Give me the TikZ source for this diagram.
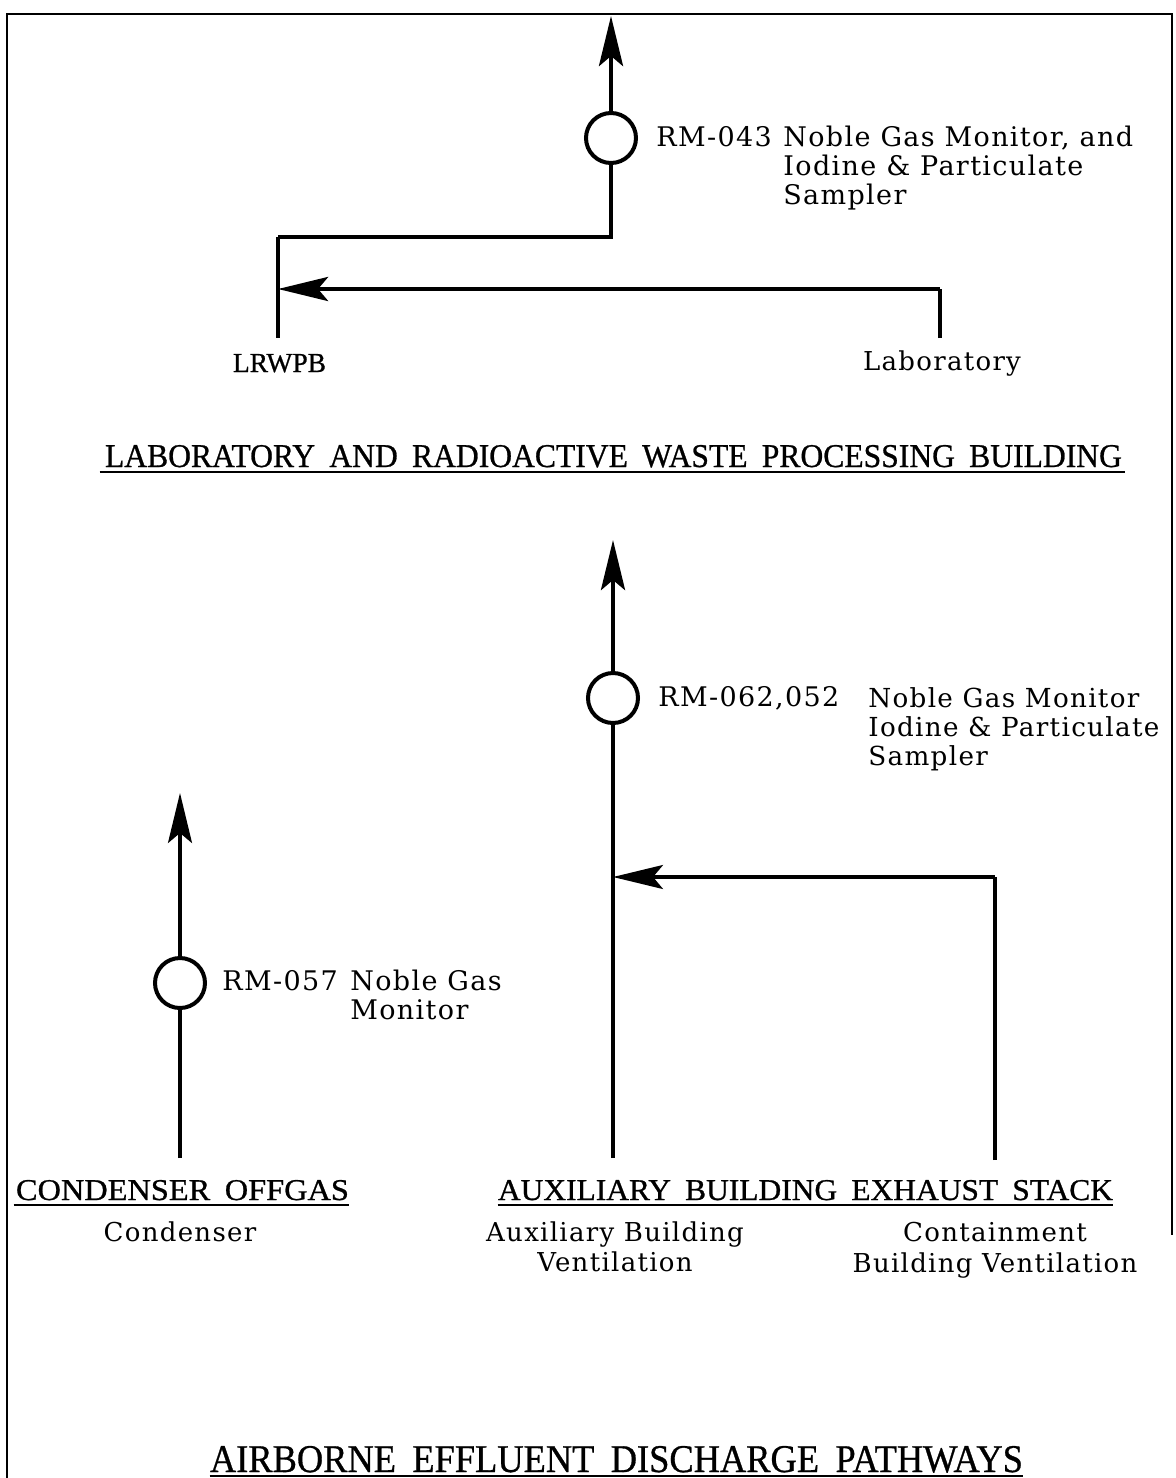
\documentclass[tikz,border=0pt]{standalone}
\usepackage{fontspec}
\usepackage{graphicx}
\setmainfont{Liberation Serif}
\newfontfamily\lblfont[LetterSpace=5]{DejaVu Serif}
\newfontfamily\ttlfont[FakeBold=0.8]{Liberation Serif}
\usetikzlibrary{arrows.meta}
\newcommand\capsbox[3]{\resizebox{#1}{#2}{\ttlfont #3}}
\newcommand\wgap{\hspace{0.45em}}
\tikzset{
  pipe/.style={line width=2.3pt},
  thinpipe/.style={line width=1.6pt},
  flow/.style={pipe,-{Stealth[length=25pt,width=12pt,inset=5pt]}},
  thinflow/.style={thinpipe,-{Stealth[length=25pt,width=12pt,inset=5pt]}},
  mon/.style={circle,draw,line width=2pt,minimum size=25pt,inner sep=0pt},
  lbl/.style={font=\lblfont\fontsize{13.5}{16}\selectfont,inner sep=0pt,anchor=base west},
  lbls/.style={font=\lblfont\fontsize{13.1}{16}\selectfont,inner sep=0pt,anchor=base west},
  sub/.style={font=\lblfont\fontsize{13}{15}\selectfont,inner sep=0pt,anchor=base},
  ttl/.style={inner sep=0pt,anchor=base},
  uline/.style={line width=1pt},
  frame/.style={line width=1.3pt}
}
\begin{document}
\begin{tikzpicture}[x=0.5pt,y=-0.5pt]
\useasboundingbox (0,0) rectangle (1175,1478);
% frame
\draw[frame] (7,1478) -- (7,14) -- (1172,14) -- (1172,1235);

% ---------- top section ----------
\coordinate (t1) at (611,16);
\node[mon] (m1) at (611,138) {};
\coordinate (j1) at (278,237);
\coordinate (lrb) at (278,338);
\coordinate (labb) at (940,338);
\coordinate (labc) at (940,289);
\coordinate (arr1) at (278,289);
\draw[flow] (m1) -- (t1);
\draw[pipe] (m1.south) -- (m1.south |- j1) -- (j1);
\draw[thinpipe] (j1) -- (lrb);
\draw[thinpipe] (labb) -- (labc);
\draw[flow] (labc) -- (arr1);

\node[lbl] (rm043) at (656,146) {RM-043};
\node[lbl] (rm043a) at (783,146) {Noble Gas Monitor, and};
\node[lbl] (rm043b) at (783,175) {Iodine \& Particulate};
\node[lbl] (rm043c) at (783,204) {Sampler};

\node[ttl] (lrwpb) at (279.5,372) {\capsbox{46.5pt}{9pt}{LRWPB}};
\node[sub] (lab) at (942,370) {Laboratory};

\node[ttl] (ttlA) at (613.5,467) {\capsbox{508.5pt}{11pt}{LABORATORY\wgap AND\wgap RADIOACTIVE\wgap WASTE\wgap PROCESSING\wgap BUILDING}};
\draw[uline] ([xshift=-2.5pt,yshift=-2.5pt]ttlA.base west) -- ([xshift=1.5pt,yshift=-2.5pt]ttlA.base east);

% ---------- auxiliary building stack ----------
\coordinate (t2) at (613,540);
\node[mon] (m2) at (613,698) {};
\coordinate (auxb) at (613,1158);
\coordinate (auxj) at (613,877);
\coordinate (contc) at (995,877);
\coordinate (contb) at (995,1160);
\draw[flow] (m2) -- (t2);
\draw[pipe] (auxb) -- (m2);
\draw[thinpipe] (contb) -- (contc);
\draw[thinflow] (contc) -- (auxj);

\node[lbl] (rm062) at (658,706) {RM-062,052};
\node[lbls] (rm062a) at (868,707) {Noble Gas Monitor};
\node[lbls] (rm062b) at (868,736) {Iodine \& Particulate};
\node[lbls] (rm062c) at (868,765) {Sampler};

% ---------- condenser offgas ----------
\coordinate (t3) at (180,793);
\node[mon] (m3) at (180,983) {};
\coordinate (condb) at (180,1158);
\draw[thinflow] (m3) -- (t3);
\draw[thinpipe] (condb) -- (m3);

\node[lbl] (rm057) at (222,990) {RM-057};
\node[lbl] (rm057a) at (350,990) {Noble Gas};
\node[lbl] (rm057b) at (350,1019) {Monitor};

% ---------- headings ----------
\node[ttl] (ttlC) at (182.5,1200) {\capsbox{166.5pt}{10pt}{CONDENSER\wgap OFFGAS}};
\draw[uline] ([xshift=-1pt,yshift=-2.5pt]ttlC.base west) -- ([yshift=-2.5pt]ttlC.base east);
\node[ttl] (ttlX) at (805.5,1200) {\capsbox{307.5pt}{10pt}{AUXILIARY\wgap BUILDING\wgap EXHAUST\wgap STACK}};
\draw[uline] ([yshift=-2.5pt]ttlX.base west) -- ([yshift=-2.5pt]ttlX.base east);

\node[sub] (cond) at (180,1241) {Condenser};
\node[sub] (auxa) at (615,1241) {Auxiliary Building};
\node[sub] (auxv) at (615,1271) {Ventilation};
\node[sub] (conta) at (995,1241) {Containment};
\node[sub] (contv) at (995,1272) {Building Ventilation};

\node[ttl] (ttlB) at (616.5,1472) {\capsbox{406.5pt}{13pt}{AIRBORNE\wgap EFFLUENT\wgap DISCHARGE\wgap PATHWAYS}};
\draw[uline] ([yshift=-2pt]ttlB.base west) -- ([yshift=-2pt]ttlB.base east);
\end{tikzpicture}
\end{document}
